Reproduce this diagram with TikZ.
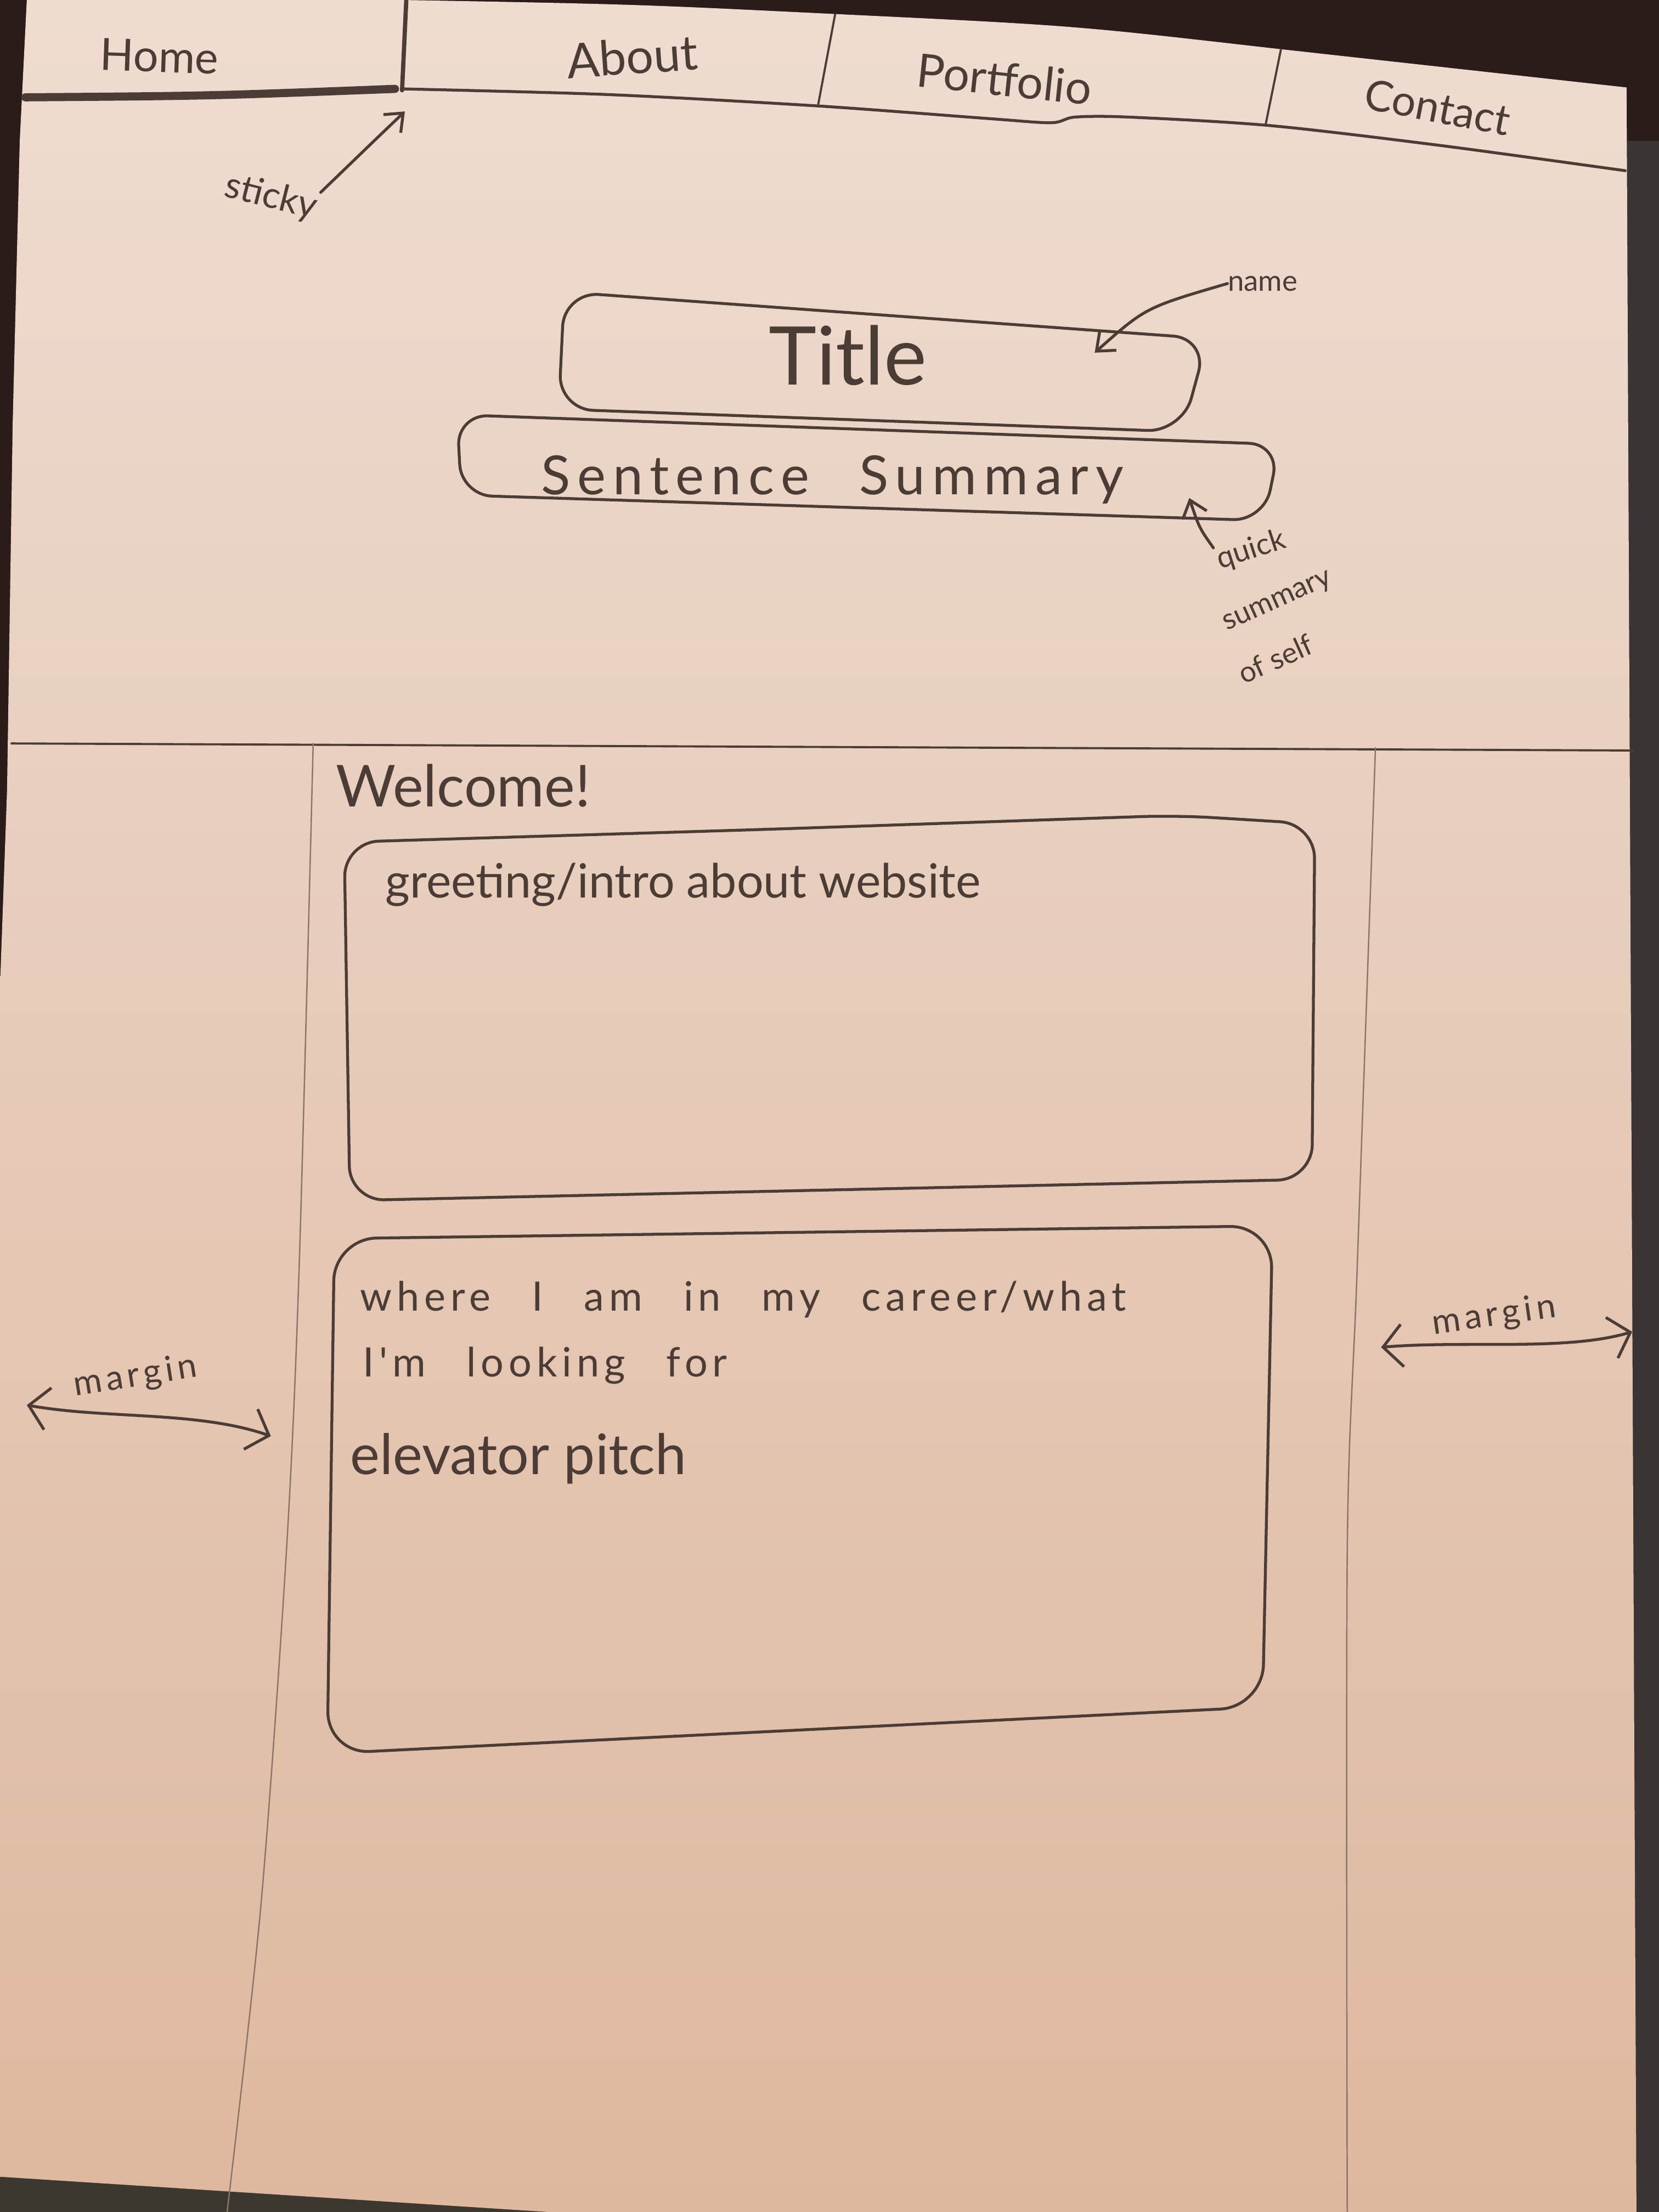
\documentclass[tikz,border=0pt]{standalone}
\usepackage{fontspec}
\setmainfont{Lato}
\newfontfamily\wideface[LetterSpace=12,WordSpace=2.7]{Lato}
\newfontfamily\spacedface[LetterSpace=13,WordSpace=2.4]{Lato}
\usetikzlibrary{arrows.meta}
\definecolor{deskTop}{HTML}{2B1C1A}
\definecolor{deskRight}{HTML}{3A3434}
\definecolor{deskBottom}{HTML}{3D382F}
\definecolor{paperTop}{HTML}{EFDCD1}
\definecolor{paperMid}{HTML}{E8CDBB}
\definecolor{paperBottom}{HTML}{DDB89E}
\definecolor{pencil}{HTML}{4B3D35}
\definecolor{pencilLight}{HTML}{8C7466}
\begin{document}
\begin{tikzpicture}[x=0.025714cm, y=-0.025714cm,
  pencil/.style={draw=pencil, line width=1.5pt, line cap=round, line join=round},
  faint/.style={draw=pencilLight, line width=0.7pt, line cap=round},
  hand/.style={text=pencil, inner sep=0pt},
  barb/.style={-{Straight Barb[length=8pt,width=13pt]}},
  dbarb/.style={{Straight Barb[length=10pt,width=22pt]}-{Straight Barb[length=10pt,width=22pt]}}]
\useasboundingbox (0,0) rectangle (1176,1568);

% desk around the sheet
\fill[deskTop] (0,0) rectangle (1176,1568);
\fill[deskRight] (1150,100) rectangle (1176,1568);
\fill[deskBottom] (0,1520) -- (420,1568) -- (0,1568) -- cycle;

% the sheet of paper
\shade[top color=paperTop, middle color=paperMid, bottom color=paperBottom]
  (19,0) -- (285,0) .. controls (450,3) .. (593,10) .. controls (760,18) .. (900,34)
  -- (1153,62) -- (1160,1568) -- (389,1568) -- (0,1543) -- (0,700) -- (5,560)
  -- (9,300) -- (14,100) -- cycle;

% navigation bar
\draw[pencil, line width=4.2pt] (18,69) .. controls (150,68) .. (280,63);
\draw[pencil, line width=2.2pt] (288,0) -- (285,64);
\draw[pencil] plot[smooth] coordinates {(285,63) (430,67) (578,75) (700,84) (745,87)
  (762,83) (800,83) (900,89) (1020,103) (1152,121)};
\draw[pencil, line width=1.1pt] (592,10) -- (580,74);
\draw[pencil, line width=1.1pt] (908,35) -- (897,89);

\node[hand, font=\fontsize{23}{26}\selectfont, rotate=-2] (home) at (113,40) {Home};
\node[hand, font=\fontsize{25}{28}\selectfont, rotate=4] (about) at (448,40) {About};
\node[hand, font=\fontsize{24}{27}\selectfont, rotate=-6] (portfolio) at (712,56) {Portfolio};
\node[hand, font=\fontsize{22}{25}\selectfont, rotate=-11] (contact) at (1019,76) {Contact};

% sticky note
\node[hand, font=\fontsize{19}{22}\selectfont, rotate=-14] (sticky) at (192,140) {sticky};
\coordinate (stickyTip) at (287,79);
\draw[pencil, barb] (sticky.north east) .. controls (265,100) .. (stickyTip);

% title block
\draw[pencil, rounded corners=18pt] (400,207) -- (856,240) -- (838,306) -- (396,290) -- cycle;
\node[hand, font=\fontsize{42}{46}\selectfont] (title) at (601,252) {Title};
\node[hand, font=\fontsize{15}{18}\selectfont] (name) at (895,201) {name};
\coordinate (nameTip) at (776,250);
\draw[pencil, barb] (name.west) .. controls (812,218) .. (nameTip);

\draw[pencil, rounded corners=16pt] (324,294) -- (907,315) -- (896,369) -- (327,351) -- cycle;
\node[hand, font=\fontsize{28}{32}\spacedface] (summary) at (590,340) {Sentence Summary};

% note under the summary
\node[hand, font=\fontsize{15.5}{19}\selectfont, rotate=18] (quick) at (887,390) {quick};
\node[hand, font=\fontsize{15}{18}\selectfont, rotate=24] (summ) at (906,427) {summary};
\node[hand, font=\fontsize{15}{18}\selectfont, rotate=24] (ofself) at (904,467) {of self};
\coordinate (quickTip) at (843,353);
\draw[pencil, barb] (quick.north west) .. controls (850,374) .. (quickTip);

% page divider and column guides
\draw[pencil, line width=1.1pt] (8,527) -- (1158,532);
\draw[faint] plot[smooth] coordinates {(222,527) (212,900) (203,1100) (185,1350) (161,1568)};
\draw[faint] plot[smooth] coordinates {(975,530) (962,900) (955,1100) (955,1568)};

% welcome section
\node[hand, font=\fontsize{30}{34}\selectfont, anchor=west] (welcome) at (238,557) {Welcome!};
\draw[pencil, rounded corners=18pt] (244,597) -- (540,588) -- (834,578) -- (932,584) -- (930,836) -- (248,851) -- cycle;
\node[hand, font=\fontsize{24.5}{28}\selectfont, anchor=west] (greeting) at (273,627) {greeting/intro about website};

\draw[pencil, rounded corners=22pt] (237,878) -- (902,869) -- (895,1210) -- (232,1243) -- cycle;
\node[hand, font=\fontsize{21}{24}\wideface, anchor=west] (career) at (255,921) {where I am in my career/what};
\node[hand, font=\fontsize{21}{24}\wideface, anchor=west] (looking) at (257,968) {I'm looking for};
\node[hand, font=\fontsize{29}{33}\selectfont, anchor=west] (pitch) at (248,1034) {elevator pitch};

% margins
\node[hand, font=\fontsize{18}{21}\wideface, rotate=9] (marginL) at (96,976) {margin};
\coordinate (mL1) at (19,996);
\coordinate (mL2) at (192,1018);
\draw[pencil, dbarb] (mL1) .. controls (75,1006) and (140,1000) .. (mL2);

\node[hand, font=\fontsize{18}{21}\wideface, rotate=8] (marginR) at (1059,933) {margin};
\coordinate (mR1) at (979,955);
\coordinate (mR2) at (1157,944);
\draw[pencil, dbarb] (mR1) .. controls (1040,950) and (1110,958) .. (mR2);
\end{tikzpicture}
\end{document}
